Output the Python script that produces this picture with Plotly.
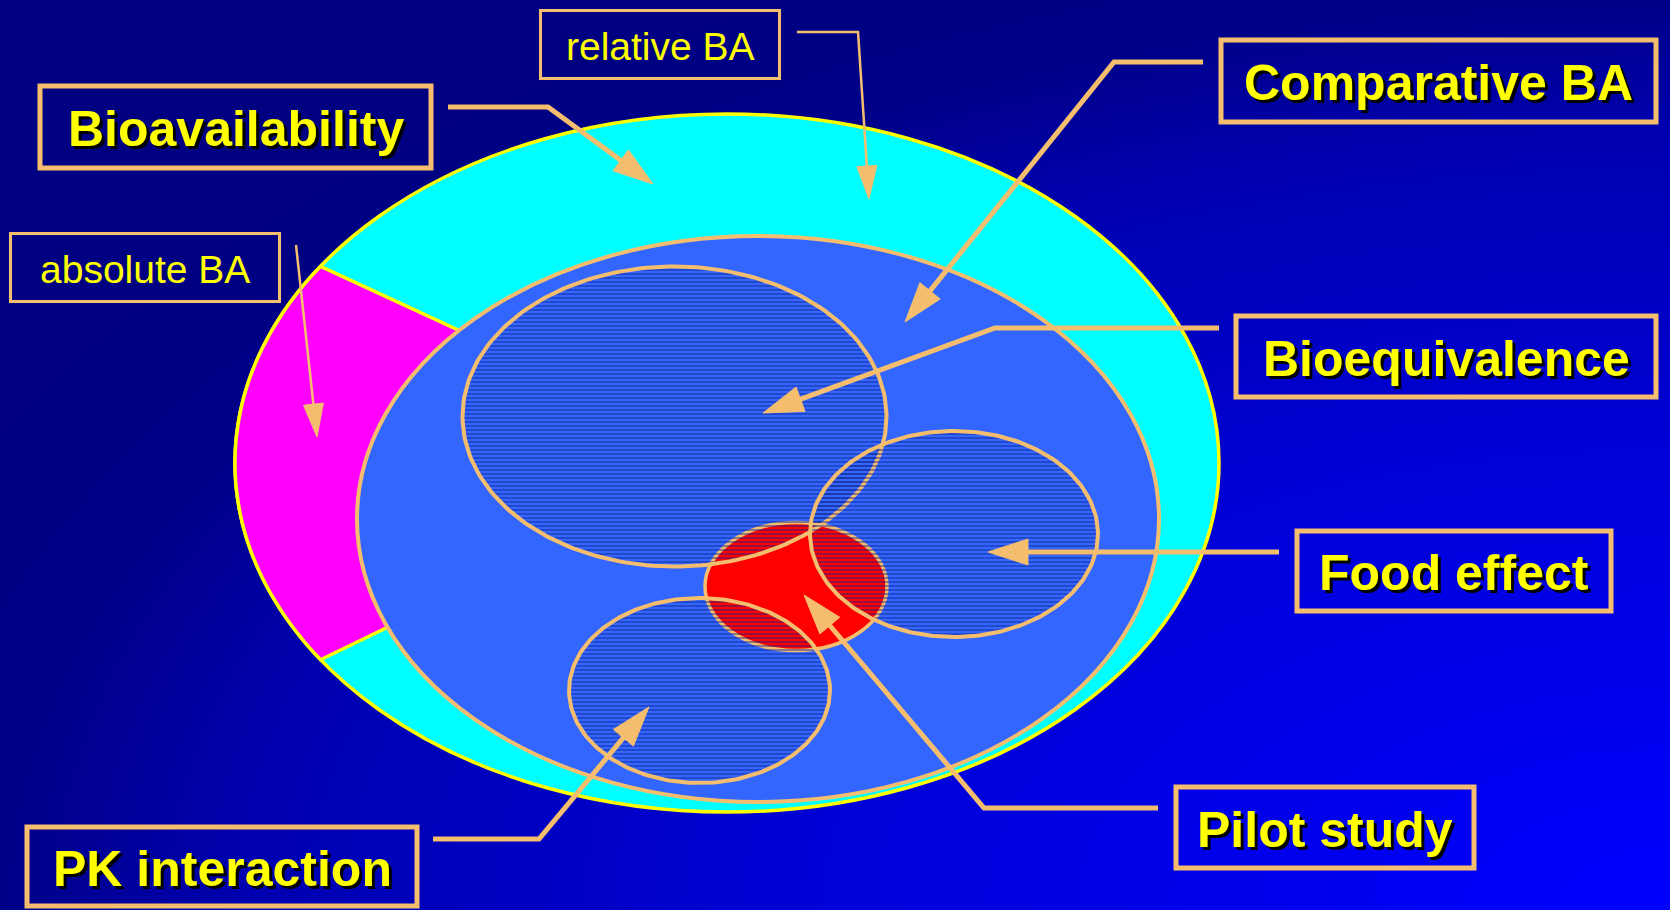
import base64
import numpy as np
import plotly.graph_objects as go

W, H = 1670, 910

# ---- label boxes ----
labels = ["relative BA", "Bioavailability", "absolute BA", "Comparative BA",
          "Bioequivalence", "Food effect", "Pilot study", "PK interaction"]
label_bold = [False, True, False, True, True, True, True, True]
box_x0 = [540.5, 40, 10.5, 1221, 1236, 1297, 1176, 27]
box_x1 = [779.5, 431, 279.5, 1656, 1656, 1611, 1474, 417]
box_y0 = [10.5, 86, 233.5, 40, 316, 531, 787, 827]
box_y1 = [78.5, 168, 301.5, 122, 397, 611, 868, 906]

# ---- connector polylines (last point = arrow tip) ----
conn_x = [[797, 858, 869], [448, 548, 653], [296, 317], [1203, 1114, 905],
          [1219, 995, 763], [1279, 988], [1158, 984, 804], [433, 539, 649]]
conn_y = [[32, 32, 199], [107, 107, 184], [245, 437], [62, 62, 322],
          [328, 328, 413], [552, 552], [808, 808, 595], [839, 839, 707]]

# ---- ellipses: name, cx, cy, rx, ry ----
ell_names = ["outer", "inner", "Bioequivalence", "Food effect", "PK interaction", "Pilot study"]
ell_cx = [727, 758, 674.5, 954, 699.5, 796]
ell_cy = [463, 519, 416.5, 534, 690.5, 586.5]
ell_rx = [492, 401, 212, 144, 130.5, 91]
ell_ry = [349, 283, 150, 103, 92.5, 64]

# magenta (absolute BA) sector angles, degrees
mag_outer = [145.7, 214.3]
mag_inner = [221.8, 157.5]

TAN = "#F5BE6E"
YEL = "#FFFF00"
CYAN = "#00FFFF"
MAG = "#FF00FF"
BLUE = "#3366FF"
RED = "#FF0000"
HATCH = "#10228C"


def ell_pt(i, deg):
    a = np.deg2rad(deg)
    return ell_cx[i] + ell_rx[i] * np.cos(a), ell_cy[i] + ell_ry[i] * np.sin(a)


# background gradient (SVG image)
svg = (
    "<svg xmlns='http://www.w3.org/2000/svg' width='1670' height='910'>"
    "<defs><radialGradient id='g' gradientUnits='objectBoundingBox' cx='1' cy='1' r='1.2' fx='1' fy='1'>"
    "<stop offset='0' stop-color='#0000FF'/>"
    "<stop offset='0.417' stop-color='#0000D8'/>"
    "<stop offset='0.583' stop-color='#0000C0'/>"
    "<stop offset='0.708' stop-color='#0000B0'/>"
    "<stop offset='0.833' stop-color='#000088'/>"
    "<stop offset='0.958' stop-color='#000080'/>"
    "<stop offset='1' stop-color='#000080'/>"
    "</radialGradient></defs>"
    "<rect width='1670' height='910' fill='url(#g)'/></svg>"
)
bg_src = "data:image/svg+xml;base64," + base64.b64encode(svg.encode()).decode()

shapes = []


def ellipse_shape(i, fill, line, lw, layer="below"):
    return dict(type="circle", xref="x", yref="y",
                x0=ell_cx[i] - ell_rx[i], x1=ell_cx[i] + ell_rx[i],
                y0=ell_cy[i] - ell_ry[i], y1=ell_cy[i] + ell_ry[i],
                fillcolor=fill, line=dict(color=line, width=lw), layer=layer)


# outer cyan ellipse
shapes.append(ellipse_shape(0, CYAN, YEL, 3.5))

# magenta sector
pts = []
for a in np.linspace(mag_outer[0], mag_outer[1], 60):
    pts.append(ell_pt(0, a))
pts.append(ell_pt(1, mag_inner[0]))
pts.append(ell_pt(1, mag_inner[1]))
path = "M " + " L ".join(f"{x:.1f},{y:.1f}" for x, y in pts) + " Z"
shapes.append(dict(type="path", path=path, xref="x", yref="y", fillcolor=MAG,
                   line=dict(color=YEL, width=3.5), layer="below"))

# inner blue ellipse
shapes.append(ellipse_shape(1, BLUE, TAN, 4))
# red pilot ellipse
shapes.append(ellipse_shape(5, RED, TAN, 3.5))

fig = go.Figure()

# hatched ellipses
t = np.linspace(0, 2 * np.pi, 241)
for i in [2, 3, 4]:
    xs = ell_cx[i] + ell_rx[i] * np.cos(t)
    ys = ell_cy[i] + ell_ry[i] * np.sin(t)
    fig.add_trace(go.Scatter(
        x=xs, y=ys, mode="lines", fill="toself",
        fillcolor="rgba(0,0,0,0)",
        fillpattern=dict(shape="-", fgcolor=HATCH, bgcolor="rgba(0,0,0,0)",
                         size=4, solidity=0.45),
        line=dict(color=TAN, width=4), hoverinfo="skip", name=ell_names[i]))

# connectors with arrowheads
for k in range(len(conn_x)):
    thick = label_bold[k]
    lw = 5 if thick else 2.5
    L = 40 if thick else 33
    hw = 13 if thick else 10
    xs, ys = conn_x[k], conn_y[k]
    tx, ty = xs[-1], ys[-1]
    dx, dy = tx - xs[-2], ty - ys[-2]
    n = (dx ** 2 + dy ** 2) ** 0.5
    ux, uy = dx / n, dy / n
    bx, by = tx - L * ux, ty - L * uy
    line_pts = list(zip(xs[:-1], ys[:-1])) + [(bx + 2 * ux, by + 2 * uy)]
    p = "M " + " L ".join(f"{x:.1f},{y:.1f}" for x, y in line_pts)
    shapes.append(dict(type="path", path=p, xref="x", yref="y",
                       line=dict(color=TAN, width=lw), layer="above"))
    px, py = -uy, ux
    tri = (f"M {tx:.1f},{ty:.1f} L {bx + hw * px:.1f},{by + hw * py:.1f} "
           f"L {bx - hw * px:.1f},{by - hw * py:.1f} Z")
    shapes.append(dict(type="path", path=tri, xref="x", yref="y",
                       fillcolor=TAN, line=dict(color=TAN, width=1), layer="above"))

# label boxes + text
annotations = []
for k, lab in enumerate(labels):
    bold = label_bold[k]
    shapes.append(dict(type="rect", xref="x", yref="y",
                       x0=box_x0[k], x1=box_x1[k], y0=box_y0[k], y1=box_y1[k],
                       line=dict(color=TAN, width=5 if bold else 3),
                       fillcolor="rgba(0,0,0,0)", layer="above"))
    font = dict(family="Liberation Sans, Arial, sans-serif", color=YEL,
                size=50 if bold else 39, weight="bold" if bold else "normal")
    if bold:
        font["shadow"] = "3px 3px 0px #000000"
    else:
        font["shadow"] = "none"
    annotations.append(dict(x=(box_x0[k] + box_x1[k]) / 2,
                            y=(box_y0[k] + box_y1[k]) / 2 + 2,
                            xref="x", yref="y", text=lab, showarrow=False,
                            xanchor="center", yanchor="middle", font=font))

fig.update_layout(
    width=W, height=H, margin=dict(l=0, r=0, t=0, b=0),
    paper_bgcolor="#000080", plot_bgcolor="rgba(0,0,0,0)",
    showlegend=False,
    xaxis=dict(range=[0, W], visible=False, fixedrange=True),
    yaxis=dict(range=[H, 0], visible=False, fixedrange=True),
    shapes=shapes, annotations=annotations,
    images=[dict(source=bg_src, xref="paper", yref="paper", x=0, y=1,
                 sizex=1, sizey=1, xanchor="left", yanchor="top",
                 sizing="stretch", layer="below")],
)

fig.write_html("out.html")
